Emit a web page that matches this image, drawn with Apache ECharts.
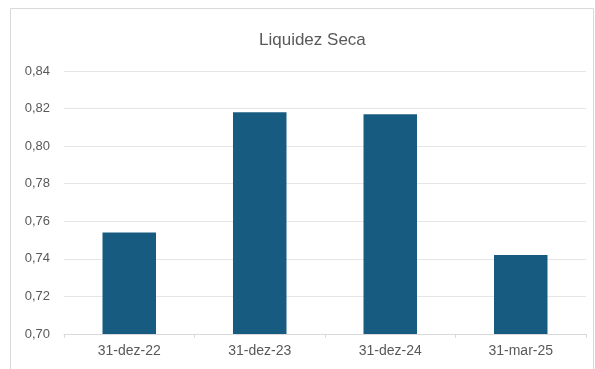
<!DOCTYPE html>
<html>
<head>
<meta charset="utf-8">
<script src="https://cdn.jsdelivr.net/npm/echarts@6/dist/echarts.min.js"></script>
<style>
  html, body { margin: 0; padding: 0; background: #fff; }
  #chart { width: 595px; height: 369px; }
</style>
</head>
<body>
<div id="chart"></div>
<script>
// dados
const categories = ['31-dez-22', '31-dez-23', '31-dez-24', '31-mar-25'];
const liquidezSeca = [0.754, 0.818, 0.817, 0.742];

const fontFam = "'Liberation Sans Narrow', 'Liberation Sans', Arial, sans-serif";

const chart = echarts.init(document.getElementById('chart'));
chart.setOption({
  backgroundColor: '#ffffff',
  animation: false,
  graphic: [{
    type: 'rect',
    shape: { x: 10.5, y: 8.5, width: 583, height: 380 },
    style: { fill: 'none', stroke: '#d9d9d9', lineWidth: 1 },
    silent: true
  }],
  title: {
    text: 'Liquidez Seca',
    left: 254,
    top: 27,
    textStyle: { fontFamily: fontFam, fontSize: 17, fontWeight: 'normal', color: '#595959' }
  },
  grid: { left: 64, right: 9, top: 71, bottom: 35 },
  xAxis: {
    type: 'category',
    data: categories,
    axisLine: { lineStyle: { color: '#d9d9d9' } },
    axisTick: { show: true, length: 4, lineStyle: { color: '#d9d9d9' } },
    axisLabel: { fontFamily: fontFam, fontSize: 14, color: '#595959', margin: 10 }
  },
  yAxis: {
    type: 'value',
    min: 0.70,
    max: 0.84,
    interval: 0.02,
    axisLine: { show: false },
    axisTick: { show: false },
    splitLine: { lineStyle: { color: '#e6e6e6' } },
    axisLabel: {
      fontFamily: fontFam, fontSize: 13, color: '#595959', margin: 14,
      formatter: v => v.toFixed(2).replace('.', ',')
    }
  },
  series: [{
    type: 'bar',
    data: liquidezSeca,
    barWidth: '41%',
    itemStyle: { color: '#175c80' }
  }]
});
</script>
</body>
</html>
